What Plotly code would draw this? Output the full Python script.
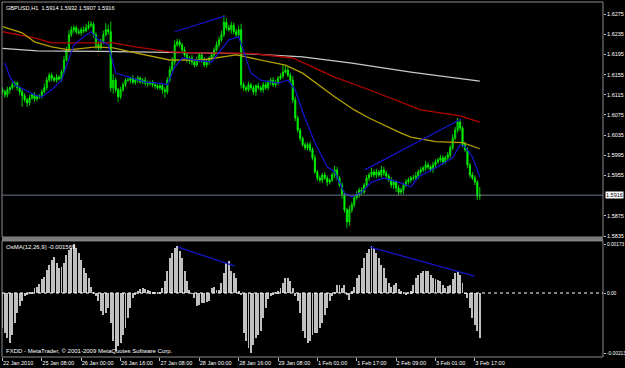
import plotly.graph_objects as go
from plotly.subplots import make_subplots

# ---------------- data (prices in 0.0001 units) ----------------
first_open = 16125
closes = [
16121,16115,16125,16129,16135,16138,16129,16121,16113,16105,
16099,16109,16115,16107,16111,16113,16121,16129,16144,16154,
16148,16144,16150,16146,16160,16184,16204,16234,16244,16248,
16240,16238,16244,16242,16248,16253,16255,16234,16214,16208,
16220,16234,16244,16240,16129,16144,16125,16111,16125,16135,
16144,16144,16148,16140,16144,16148,16140,16144,16138,16137,
16140,16135,16133,16129,16133,16125,16121,16144,16164,16180,
16214,16220,16214,16204,16194,16184,16188,16180,16174,16184,
16194,16184,16174,16180,16188,16194,16204,16214,16224,16234,
16259,16248,16244,16253,16240,16234,16244,16135,16129,16125,
16135,16129,16121,16133,16129,16125,16135,16129,16140,16144,
16135,16140,16148,16152,16160,16164,16154,16144,16105,16069,
16045,16029,16016,16010,16016,16006,15990,15962,15950,15946,
15956,15950,15942,15946,15956,15966,15950,15936,15917,15887,
15863,15887,15897,15911,15917,15926,15922,15936,15950,15956,
15962,15956,15962,15956,15966,15960,15954,15946,15936,15942,
15930,15922,15926,15936,15942,15946,15950,15950,15954,15962,
15966,15970,15976,15972,15966,15976,15982,15986,15990,15982,
15990,15996,16010,16029,16045,16061,16049,16016,16006,15976,
15956,15950,15942,15914,15916]
up_wick = [
5,4,6,3,7,5,4,3,6,5, 4,6,3,5,4,3,5,8,6,4, 5,3,6,4,5,8,6,9,7,5,
4,6,5,7,8,8,6,4,5,7, 6,8,13,10,20,12,5,4,6,5, 4,5,3,6,4,5,3,4,6,5,
3,4,5,3,6,4,5,6,8,10, 9,6,5,4,6,5,4,6,5,7, 5,4,6,5,3,6,5,7,6,8,
14,8,6,7,5,6,8,12,5,4, 6,4,5,3,6,4,5,6,4,5, 6,5,4,6,14,8,6,5,8,6,
5,4,3,5,4,6,5,6,4,5, 4,6,5,3,5,8,6,4,5,6, 4,8,6,5,7,5,6,4,6,5,
8,5,6,4,8,6,5,4,6,5, 4,6,5,4,6,5,4,6,8,5, 6,4,8,5,4,6,5,4,6,5,
4,6,5,8,6,8,5,4,6,5, 4,6,5,4,16]
down_wick = [
4,6,5,8,4,5,6,7,22,5, 8,5,4,6,5,4,6,3,5,4, 6,4,5,3,5,4,3,5,4,6,
5,4,6,5,3,4,5,6,8,5, 4,5,3,6,8,12,6,10,5,4, 5,3,6,4,5,6,3,4,5,6,
4,5,6,4,5,8,12,5,4,5, 6,4,5,6,4,5,8,6,5,4, 5,6,4,5,6,4,5,3,5,4,
5,6,4,8,5,6,4,8,6,5, 4,5,6,8,4,5,6,4,5,6, 4,5,6,4,5,3,4,5,6,6,
5,6,4,5,6,4,5,4,6,5, 6,4,8,5,4,6,5,4,8,6, 12,8,6,5,4,6,5,4,5,6,
4,5,6,4,5,6,5,4,6,8, 8,6,5,8,4,5,6,5,4,6, 5,4,6,5,4,6,5,4,5,6,
4,5,6,5,4,5,6,5,4,6, 5,4,6,8,7]

# moving averages (bar index, value in 0.0001 units)
gray_x = [0, 14, 40, 61, 81, 101, 122, 142, 166, 194]
gray_y = [16207, 16202, 16201, 16200, 16198, 16196, 16190, 16178, 16160, 16142]
red_x = [0, 13, 20, 34, 45, 54, 68, 81, 101, 118, 135, 149, 166, 170, 186, 194]
red_y = [16240, 16228, 16218, 16218, 16218, 16210, 16200, 16198, 16197, 16188, 16150, 16125, 16093, 16085, 16073, 16061]
yel_x = [0, 8, 13, 20, 27, 38, 45, 54, 68, 81, 95, 101, 115, 122, 135, 143, 149, 162, 166, 176, 187, 194]
yel_y = [16250, 16238, 16220, 16210, 16204, 16210, 16208, 16198, 16184, 16184, 16194, 16188, 16174, 16158, 16111, 16085, 16069, 16039, 16031, 16022, 16020, 16008]
blue_x = [1, 3, 5, 9, 13, 16, 20, 24, 27, 29, 33, 36, 39, 43, 46, 51, 58, 64, 67, 70, 73, 78, 85, 92, 96,
          101, 105, 112, 116, 119, 122, 127, 132, 135, 139, 142, 146, 150, 155, 161, 166, 169, 176, 183, 186, 188, 191, 194]
blue_y = [16178, 16150, 16135, 16125, 16115, 16111, 16125, 16144, 16184, 16214, 16230, 16240, 16224, 16214, 16158, 16150,
          16140, 16138, 16135, 16170, 16188, 16184, 16180, 16224, 16230, 16158, 16144, 16138, 16144, 16125, 16081, 16020,
          15972, 15962, 15920, 15913, 15922, 15942, 15950, 15942, 15932, 15952, 15970, 15990, 16016, 16012, 15992, 15952]

# drawn trend lines
trend1_x = [70, 90.4]
trend1_y = [16240, 16271]
trend2_x = [147.3, 186.4]
trend2_y = [15966, 16067]

# OsMA histogram (units of 1e-5)
osma = [
-124,-141,-159,-177,-148,-106,-71,-46,-28,-11, -4,1,4,18,21,32,49,56,81,99,
116,127,106,88,92,106,134,152,159,173, 159,141,116,88,71,53,21,1,-11,-28,
-64,-78,-71,-53,-106,-169,-205,-187,-177,-148, -124,-88,-53,-18,-7,7,14,18,14,11,
7,4,4,3,4,18,42,78,124,141, 159,166,148,124,78,42,11,-1,-18,-46,
-42,-35,-35,-32,-28,18,21,11,11,35, 71,106,113,78,71,53,7,-4,-141,-169,
-194,-213,-184,-159,-148,-134,-88,-53,-21,-11, -4,1,7,18,35,53,53,42,18,-11,
-28,-71,-134,-159,-177,-169,-148,-141,-141,-124, -106,-78,-53,-28,-11,1,28,28,18,28,
-7,-25,7,21,53,64,88,124,141,155, 166,159,141,124,99,88,53,35,21,28,
35,14,7,4,-4,1,7,28,53,64, 71,78,78,78,64,53,49,46,42,28,
18,25,28,49,71,78,64,35,-1,-18, -53,-88,-113,-134,-156.9]
osma_tr1_x = [71.3, 94.5]
osma_tr1_y = [162, 95]
osma_tr2_x = [149.4, 192]
osma_tr2_y = [162, 60]

tick_bars = [0, 16, 32, 48, 64, 80, 96, 112, 128, 144, 160, 176, 192]
tick_text = ["22 Jan 2010", "25 Jan 08:00", "26 Jan 00:00", "26 Jan 16:00", "27 Jan 08:00",
             "28 Jan 00:00", "28 Jan 16:00", "29 Jan 08:00", "1 Feb 01:00", "1 Feb 17:00",
             "2 Feb 09:00", "3 Feb 01:00", "3 Feb 17:00"]
price_ticks = [1.6275, 1.6235, 1.6195, 1.6155, 1.6115, 1.6075, 1.6035, 1.5995, 1.5955, 1.5875, 1.5835]
osma_ticks = [0.00173, 0.0, -0.00213]
osma_tick_text = ["0.00173", "0.00", "-0.00213"]

# ---------------- build ----------------
P = 1e-4
n = len(closes)
bars = list(range(n))
opens = [first_open] + closes[:-1]
highs = [max(o, c) + u for o, c, u in zip(opens, closes, up_wick)]
lows = [min(o, c) - d for o, c, d in zip(opens, closes, down_wick)]
to_p = lambda arr: [v * P for v in arr]

FONT = "Liberation Sans"
fig = make_subplots(rows=2, cols=1, shared_xaxes=True)

fig.add_trace(go.Candlestick(
    x=bars, open=to_p(opens), high=to_p(highs), low=to_p(lows), close=to_p(closes),
    increasing=dict(line=dict(color="#00ff00", width=0.8), fillcolor="#008a00"),
    decreasing=dict(line=dict(color="#00ff00", width=0.8), fillcolor="#00e000"),
    showlegend=False), row=1, col=1)

for xs, ys, col in [(gray_x, gray_y, "#c8c8c8"), (red_x, red_y, "#b00000"),
                    (yel_x, yel_y, "#b4a000"), (blue_x, blue_y, "#1414c8"),
                    (trend1_x, trend1_y, "#1414c8"), (trend2_x, trend2_y, "#1414c8")]:
    fig.add_trace(go.Scatter(x=xs, y=to_p(ys), mode="lines", line=dict(color=col, width=1.3),
                             showlegend=False, hoverinfo="skip"), row=1, col=1)

fig.add_trace(go.Bar(x=bars, y=[v * 1e-5 for v in osma], width=0.38,
                     marker=dict(color="#c0c0c0", line=dict(width=0)), showlegend=False), row=2, col=1)
for xs, ys in [(osma_tr1_x, osma_tr1_y), (osma_tr2_x, osma_tr2_y)]:
    fig.add_trace(go.Scatter(x=xs, y=[v * 1e-5 for v in ys], mode="lines",
                             line=dict(color="#1414c8", width=1.3), showlegend=False), row=2, col=1)

main_bot, osma_top = 0.338, 0.327
xr = [-0.2, 244.1]
fig.update_layout(
    width=625, height=368, margin=dict(l=2, r=22, t=2, b=11, autoexpand=False),
    paper_bgcolor="#000000", plot_bgcolor="#000000",
    font=dict(family=FONT, size=6, color="#ffffff"),
    bargap=0,
    xaxis=dict(range=xr, showgrid=False, zeroline=False, showticklabels=False, automargin=False,
               rangeslider=dict(visible=False)),
    xaxis2=dict(range=xr, showgrid=False, zeroline=False, tickvals=tick_bars, ticktext=tick_text,
                tickangle=0, automargin=False,
                ticks="outside", ticklen=3, tickcolor="#c0c0c0", ticklabelposition="outside right",
                tickfont=dict(size=5.5, color="#ffffff", family=FONT)),
    yaxis=dict(domain=[main_bot, 1], side="right", range=[1.5833, 1.6299], showgrid=False,
               zeroline=False, tickvals=price_ticks, tickformat=".4f", ticks="outside", ticklen=2,
               automargin=False,
               tickcolor="#c0c0c0", tickfont=dict(size=5.5, color="#ffffff", family=FONT)),
    yaxis2=dict(domain=[0, osma_top], side="right", range=[-0.00226, 0.00184], showgrid=False,
                zeroline=False, tickvals=osma_ticks, ticktext=osma_tick_text, ticks="outside",
                automargin=False,
                ticklen=2, tickcolor="#c0c0c0", tickfont=dict(size=4.8, color="#ffffff", family=FONT)),
)

shapes = [
    dict(type="rect", xref="paper", yref="paper", x0=0, x1=1, y0=main_bot, y1=1,
         line=dict(color="#8a8a8a", width=1)),
    dict(type="rect", xref="paper", yref="paper", x0=0, x1=1, y0=osma_top, y1=main_bot,
         line=dict(width=0), fillcolor="#7a7a7a"),
    dict(type="rect", xref="paper", yref="paper", x0=0, x1=1, y0=0, y1=osma_top,
         line=dict(color="#8a8a8a", width=1)),
    dict(type="line", xref="paper", yref="y", x0=0, x1=1, y0=closes[-1] * P, y1=closes[-1] * P,
         line=dict(color="#687888", width=1)),
    dict(type="line", xref="paper", yref="y2", x0=0, x1=1, y0=0, y1=0,
         line=dict(color="#ffffff", width=1, dash="dot")),
]
fig.update_layout(shapes=shapes)

o, h, l, c = opens[-1] * P, highs[-1] * P, lows[-1] * P, closes[-1] * P
fig.add_annotation(xref="paper", yref="paper", x=0.004, y=1, xanchor="left", yanchor="top", yshift=-1,
                   text=f"GBPUSD,H1  {o:.4f} {h:.4f} {l:.4f} {c:.4f}", showarrow=False,
                   font=dict(size=5.6, color="#ffffff", family=FONT))
fig.add_annotation(xref="paper", yref="paper", x=0.004, y=osma_top, xanchor="left", yanchor="top",
                   yshift=-1, text=f"OsMA(12,26,9) {osma[-1] * 1e-5:.6f}", showarrow=False,
                   font=dict(size=6, color="#ffffff", family=FONT))
fig.add_annotation(xref="paper", yref="paper", x=0.004, y=0, xanchor="left", yanchor="bottom",
                   yshift=1, text="FXDD - MetaTrader, © 2001-2009 MetaQuotes Software Corp.",
                   showarrow=False, font=dict(size=6, color="#ffffff", family=FONT))
fig.add_annotation(xref="paper", yref="y", x=1, y=c, xanchor="left", yanchor="middle", xshift=2,
                   text=f"{c:.4f}", showarrow=False, bgcolor="#ffffff", borderpad=0,
                   font=dict(size=5.5, color="#000000", family=FONT))

fig.write_html("out.html")
